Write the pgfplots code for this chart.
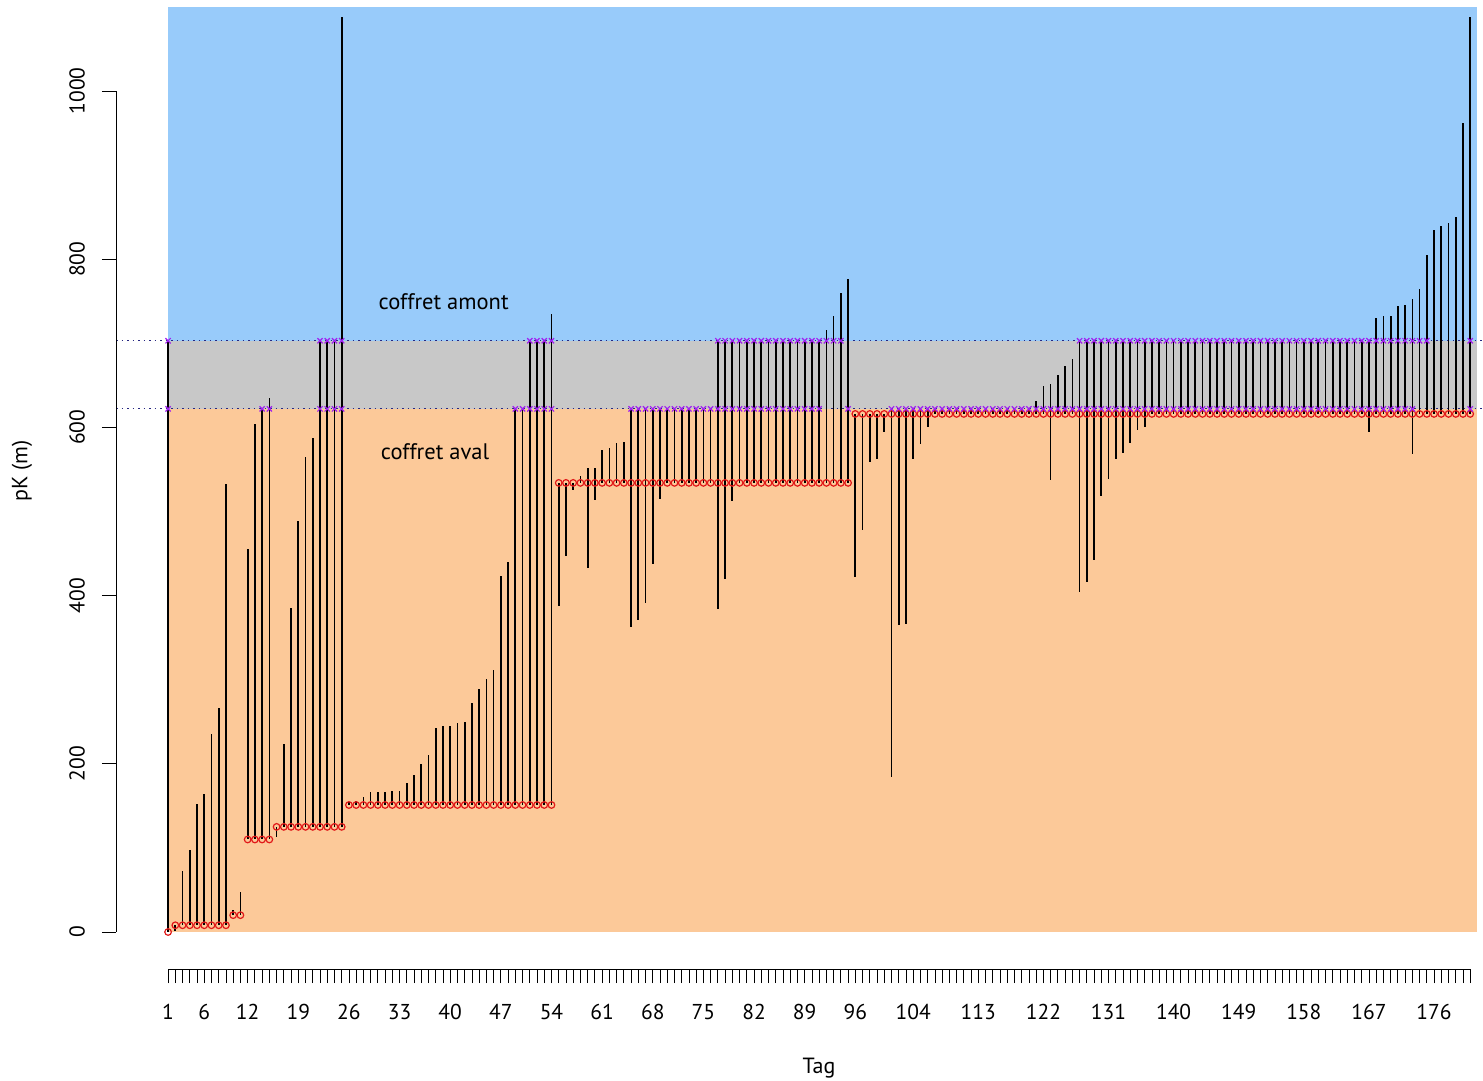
\documentclass[border=0pt]{standalone}
\usepackage{pgfplots}
\pgfplotsset{compat=1.18}
\usepackage{pgfplotstable}
\usepackage{fontspec}
\setmainfont{PT Sans}
\definecolor{bgblue}{RGB}{152,203,250}
\definecolor{bggray}{RGB}{200,200,200}
\definecolor{bgorange}{RGB}{252,201,153}
\definecolor{xpurple}{RGB}{160,32,240}
\definecolor{rred}{RGB}{225,25,25}
\definecolor{dotblue}{RGB}{40,40,130}

\pgfplotstableread{
t lo hi r u v
1 0 703 0 622 703
2 1 8 8 nan nan
3 8 72 8 nan nan
4 8 97 8 nan nan
5 8 152 8 nan nan
6 8 164 8 nan nan
7 8 236 8 nan nan
8 8 266 8 nan nan
9 8 533 8 nan nan
10 20 26 20 nan nan
11 20 47 20 nan nan
12 110 455 110 nan nan
13 110 604 110 nan nan
14 110 622 110 622 nan
15 110 635 110 622 nan
16 113 125 125 nan nan
17 125 224 125 nan nan
18 125 385 125 nan nan
19 125 489 125 nan nan
20 125 565 125 nan nan
21 125 587 125 nan nan
22 125 703 125 622 703
23 125 703 125 622 703
24 125 703 125 622 703
25 125 1088 125 622 703
26 151 155 151 nan nan
27 151 156 151 nan nan
28 151 160 151 nan nan
29 151 166 151 nan nan
30 151 166 151 nan nan
31 151 166 151 nan nan
32 151 168 151 nan nan
33 151 168 151 nan nan
34 151 177 151 nan nan
35 151 187 151 nan nan
36 151 200 151 nan nan
37 151 210 151 nan nan
38 151 243 151 nan nan
39 151 245 151 nan nan
40 151 245 151 nan nan
41 151 249 151 nan nan
42 151 250 151 nan nan
43 151 272 151 nan nan
44 151 289 151 nan nan
45 151 301 151 nan nan
46 151 312 151 nan nan
47 151 423 151 nan nan
48 151 440 151 nan nan
49 151 622 151 622 nan
50 151 622 151 622 nan
51 151 703 151 622 703
52 151 703 151 622 703
53 151 703 151 622 703
54 151 735 151 622 703
55 388 534 534 nan nan
56 447 534 534 nan nan
57 525 534 534 nan nan
58 534 542 534 nan nan
59 433 552 534 nan nan
60 514 552 534 nan nan
61 534 573 534 nan nan
62 534 575 534 nan nan
63 534 582 534 nan nan
64 534 583 534 nan nan
65 363 622 534 622 nan
66 371 622 534 622 nan
67 391 622 534 622 nan
68 438 622 534 622 nan
69 515 622 534 622 nan
70 534 622 534 622 nan
71 534 622 534 622 nan
72 534 622 534 622 nan
73 534 622 534 622 nan
74 534 622 534 622 nan
75 534 622 534 622 nan
76 534 622 534 622 nan
77 384 703 534 622 703
78 420 703 534 622 703
79 512 703 534 622 703
80 534 703 534 622 703
81 534 703 534 622 703
82 534 703 534 622 703
83 534 703 534 622 703
84 534 703 534 622 703
85 534 703 534 622 703
86 534 703 534 622 703
87 534 703 534 622 703
88 534 703 534 622 703
89 534 703 534 622 703
90 534 703 534 622 703
91 534 703 534 622 703
92 534 716 534 nan 703
93 534 733 534 nan 703
94 534 760 534 nan 703
95 534 777 534 622 nan
96 422 616 616 nan nan
97 478 616 616 nan nan
98 559 616 616 nan nan
99 563 616 616 nan nan
100 594 616 616 nan nan
101 184 622 616 622 nan
102 365 622 616 622 nan
103 366 622 616 622 nan
104 563 622 616 622 nan
105 580 622 616 622 nan
106 600 622 616 622 nan
107 616 622 616 622 nan
108 616 622 616 622 nan
109 616 622 616 622 nan
110 616 622 616 622 nan
111 616 622 616 622 nan
112 616 622 616 622 nan
113 616 622 616 622 nan
114 616 622 616 622 nan
115 616 622 616 622 nan
116 616 622 616 622 nan
117 616 622 616 622 nan
118 616 622 616 622 nan
119 616 622 616 622 nan
120 616 622 616 622 nan
121 616 631 616 622 nan
122 616 649 616 622 nan
123 537 652 616 622 nan
124 616 662 616 622 nan
125 616 673 616 622 nan
126 616 681 616 622 nan
127 404 703 616 622 703
128 416 703 616 622 703
129 442 703 616 622 703
130 518 703 616 622 703
131 539 703 616 622 703
132 562 703 616 622 703
133 570 703 616 622 703
134 581 703 616 622 703
135 597 703 616 622 703
136 600 703 616 622 703
137 616 703 616 622 703
138 616 703 616 622 703
139 616 703 616 622 703
140 616 703 616 622 703
141 616 703 616 622 703
142 616 703 616 622 703
143 616 703 616 622 703
144 616 703 616 622 703
145 616 703 616 622 703
146 616 703 616 622 703
147 616 703 616 622 703
148 616 703 616 622 703
149 616 703 616 622 703
150 616 703 616 622 703
151 616 703 616 622 703
152 616 703 616 622 703
153 616 703 616 622 703
154 616 703 616 622 703
155 616 703 616 622 703
156 616 703 616 622 703
157 616 703 616 622 703
158 616 703 616 622 703
159 616 703 616 622 703
160 616 703 616 622 703
161 616 703 616 622 703
162 616 703 616 622 703
163 616 703 616 622 703
164 616 703 616 622 703
165 616 703 616 622 703
166 616 703 616 622 703
167 594 703 616 622 703
168 616 730 616 622 703
169 616 732 616 622 703
170 616 732 616 622 703
171 616 744 616 622 703
172 616 746 616 622 703
173 568 753 616 622 703
174 616 765 616 nan 703
175 616 805 616 nan 703
176 616 835 616 nan nan
177 616 840 616 nan nan
178 616 843 616 nan nan
179 616 850 616 nan nan
180 616 962 616 nan nan
181 616 1088 616 622 703
}\tagdata

\begin{document}
\fontsize{21}{25}\selectfont
\begin{tikzpicture}
\path[use as bounding box] (0,0) rectangle (1483pt,1081pt);
\begin{axis}[
  at={(116pt,112pt)}, anchor=south west,
  scale only axis, width=1367pt, height=969pt,
  xmin=-6.2, xmax=182.77, ymin=-44, ymax=1108.2,
  axis line style={draw=none},
  clip=false,
  tick align=outside, xtick pos=left, ytick pos=left,
  major tick length=14pt, minor tick length=14pt,
  tick style={black, line width=0.8pt},
  minor tick style={black, line width=0.8pt},
  xtick={1,6,12,19,26,33,40,47,54,61,68,75,82,89,96,104,113,122,131,140,149,158,167,176},
  minor xtick={1,...,181},
  ytick={0,200,400,600,800,1000},
  /pgf/number format/assume math mode=true,
  /pgf/number format/1000 sep={},
  ticklabel style={font=\fontsize{21.5}{25}\selectfont},
  xticklabel style={yshift=-14pt},
  yticklabel style={rotate=90, anchor=south, yshift=10pt},
]
% background zones
\addplot[draw=none, fill=bgorange] coordinates {(1,0) (182,0) (182,622) (1,622)} -- cycle;
\addplot[draw=none, fill=bggray] coordinates {(1,622) (182,622) (182,703) (1,703)} -- cycle;
\addplot[draw=none, fill=bgblue] coordinates {(1,703) (182,703) (182,1100) (1,1100)} -- cycle;
% limits
\addplot[dotblue, line width=0.8pt, dash pattern=on 1.5pt off 4pt] coordinates {(-6.2,703) (182.77,703)};
\addplot[dotblue, line width=0.8pt, dash pattern=on 1.5pt off 4pt] coordinates {(-6.2,622) (182.77,622)};
% vertical ranges
\addplot[draw=none, mark=none,
  error bars/.cd, y dir=both, y explicit, error mark=none,
  error bar style={draw=black, line width=1.7pt}]
  table[x=t, y expr={(\thisrow{lo}+\thisrow{hi})/2}, y error expr={(\thisrow{hi}-\thisrow{lo})/2}] {\tagdata};
% red circles
\addplot[only marks, mark=o, mark size=3.3pt, mark options={draw=rred, line width=1.2pt}] table[x=t, y=r] {\tagdata};
% purple crosses
\addplot[only marks, mark=x, mark size=3.7pt, mark options={draw=xpurple, line width=1.2pt}, unbounded coords=discard] table[x=t, y=u] {\tagdata};
\addplot[only marks, mark=x, mark size=3.7pt, mark options={draw=xpurple, line width=1.2pt}, unbounded coords=discard] table[x=t, y=v] {\tagdata};
% texts
\node[font=\fontsize{22.5}{26}\selectfont] at (axis cs:39.1,750) {coffret amont};
\node[font=\fontsize{22.5}{26}\selectfont] at (axis cs:37.9,571) {coffret aval};
% axis lines (R style)
\draw[black, line width=0.9pt] (axis cs:1,-44) -- (axis cs:181,-44);
\draw[black, line width=0.9pt] (axis cs:-6.2,0) -- (axis cs:-6.2,1000);
\end{axis}
\node[font=\fontsize{22}{26}\selectfont] at (819pt,13pt) {Tag};
\node[font=\fontsize{22}{26}\selectfont, rotate=90] at (22pt,610pt) {pK (m)};
\end{tikzpicture}
\end{document}
